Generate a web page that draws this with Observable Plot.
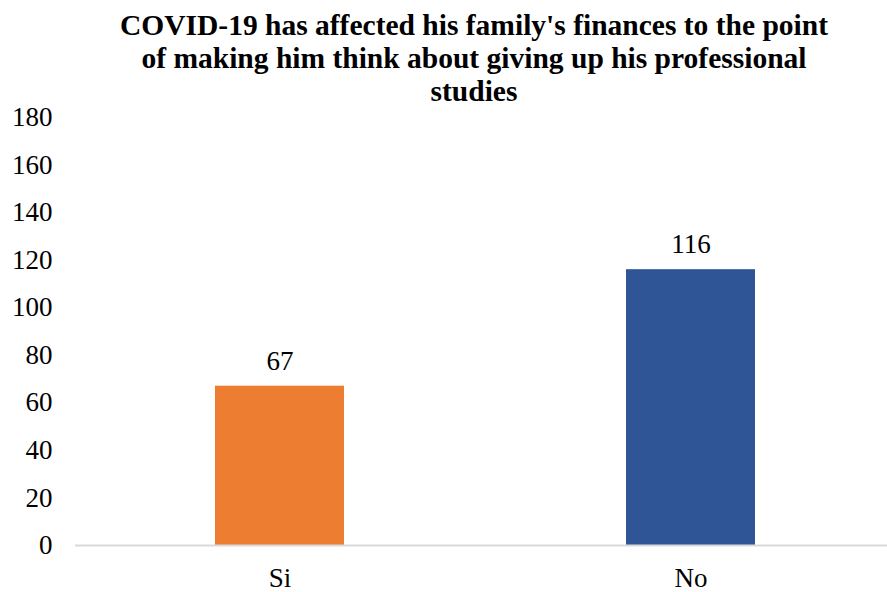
<!DOCTYPE html>
<html>
<head>
<meta charset="utf-8">
<script src="https://cdn.jsdelivr.net/npm/d3@7"></script>
<script src="https://cdn.jsdelivr.net/npm/@observablehq/plot@0.6"></script>
<style>
  html, body { margin: 0; padding: 0; background: #fff; }
  #title {
    width: 887px; height: 92px; box-sizing: border-box;
    padding-top: 9px; padding-left: 61px;
    font-family: "Liberation Serif", "Times New Roman", Times, "DejaVu Serif", serif;
    font-weight: bold; font-size: 29.5px; line-height: 33px;
    text-align: center; color: #000;
  }
  #title div { white-space: nowrap; }
  #chart svg { overflow: visible; }
</style>
</head>
<body>
<div id="title">
  <div>COVID-19 has affected his family's finances to the point</div>
  <div>of making him think about giving up his professional</div>
  <div>studies</div>
</div>
<div id="chart"></div>
<script>
const categories = ["Si", "No"];
const values = [67, 116];
const colors = ["#ED7D31", "#2F5597"];
const yTicks = [0, 20, 40, 60, 80, 100, 120, 140, 160, 180];

const data = categories.map((c, i) => ({category: c, value: values[i], color: colors[i]}));
const serif = "Liberation Serif, Times New Roman, Times, DejaVu Serif, serif";

const chart = Plot.plot({
  width: 887,
  height: 500,
  marginTop: 25,
  marginBottom: 47,
  marginLeft: 75,
  marginRight: 0,
  style: {fontFamily: serif, fontSize: "27px", color: "#000", background: "#fff", overflow: "visible"},
  x: {domain: categories, range: [74.5, 896.5], paddingInner: 0.686, paddingOuter: 0.343, label: null},
  y: {domain: [0, 180], ticks: yTicks, label: null},
  marks: [
    Plot.barY(data, {x: "category", y: "value", fill: "color"}),
    Plot.ruleY([0], {stroke: "#d9d9d9", strokeWidth: 2}),
    Plot.text(data, {x: "category", y: "value", text: d => String(d.value), dy: -25, fill: "#000", fontSize: 27, fontFamily: serif}),
    Plot.axisY({ticks: yTicks, tickSize: 0, tickPadding: 23, fontSize: 27, fontFamily: serif, label: null}),
    Plot.axisX({tickSize: 0, tickPadding: 22, fontSize: 27, fontFamily: serif, label: null})
  ]
});
document.getElementById("chart").appendChild(chart);
</script>
</body>
</html>
